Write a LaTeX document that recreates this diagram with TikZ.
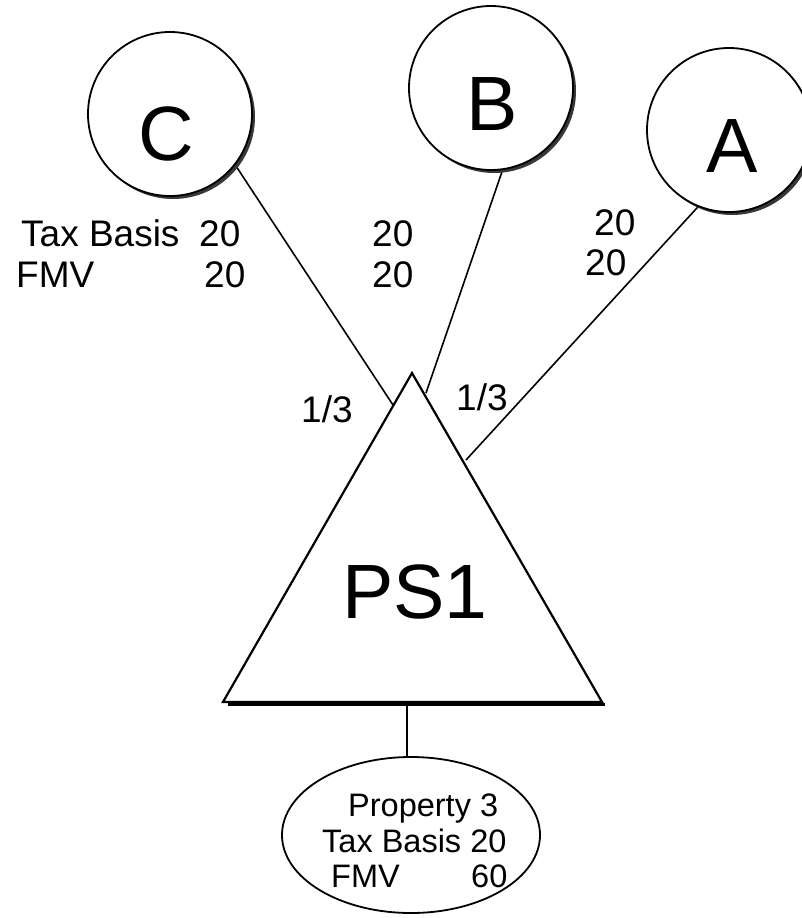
\documentclass[tikz,border=0pt]{standalone}
\usepackage{fontspec}
\setmainfont{Liberation Sans}
\usetikzlibrary{shapes.geometric,shadows,backgrounds}
\begin{document}
\begin{tikzpicture}[x=1pt,y=-1pt,
  partner/.style={circle,draw,line width=1.8pt,fill=white,minimum size=164pt,inner sep=0pt,
    drop shadow={shadow xshift=3pt,shadow yshift=-3pt,opacity=1,fill=black!78}},
  bigtext/.style={anchor=base,inner sep=0pt,font=\fontsize{77}{92}\selectfont},
  lbl/.style={anchor=base west,inner sep=0pt,font=\fontsize{37}{44}\selectfont},
  plbl/.style={anchor=base west,inner sep=0pt,font=\fontsize{32.5}{39}\selectfont},
  link/.style={line width=1.6pt},
  edge/.style={line width=2.2pt,line join=miter},
]
\useasboundingbox (0,0) rectangle (801,918);

% partnership triangle corners
\coordinate (apex) at (412,373);
\coordinate (bl) at (223,702);
\coordinate (br) at (602,702);
\coordinate (base) at (407,702);

% where the partner lines meet the triangle
\coordinate (tC) at (393,405);
\coordinate (tB) at (426,393);
\coordinate (tA) at (466,460);

% partners
\node[partner] (C) at (170,114) {};
\node[partner] (B) at (491,88) {};
\node[partner] (A) at (729,130) {};
\node[bigtext] (Ct) at (166,160) {C};
\node[bigtext] (Bt) at (492,130) {B};
\node[bigtext] (At) at (732,172) {A};

% ownership lines, kept behind the circles
\begin{pgfonlayer}{background}
\draw[link] (C.-38) -- (tC);
\draw[link] (B.-82) -- (tB);
\draw[link] (A.-112) -- (tA);
\end{pgfonlayer}

% triangle with its base shadow
\draw[line width=2.4pt] (228,704.5) -- (605,704.5);
\draw[edge,fill=white] (apex) -- (bl) -- (br) -- cycle;
\node[bigtext] (PS) at (415,618) {PS1};

% property held by the partnership
\node[ellipse,draw,line width=1.8pt,minimum width=258pt,minimum height=156pt,inner sep=0pt] (P) at (411,835) {};
\draw[link] (base) -- (base |- P.north);
\node[plbl] (p1) at (348,816) {Property 3};
\node[plbl] (p2) at (322,852) {Tax Basis 20};
\node[plbl] (p3) at (331,887) {FMV};
\node[plbl] (p4) at (471,887) {60};

% capital accounts of the partners
\node[lbl] (c1) at (21,246) {Tax Basis};
\node[lbl] (c2) at (199,246) {20};
\node[lbl] (c3) at (16,287) {FMV};
\node[lbl] (c4) at (204,287) {20};
\node[lbl] (b1) at (372,246) {20};
\node[lbl] (b2) at (372,287) {20};
\node[lbl] (a1) at (594,235) {20};
\node[lbl] (a2) at (585,275) {20};

% ownership fractions
\node[lbl] (f1) at (301,422) {1/3};
\node[lbl] (f2) at (456,410) {1/3};
\end{tikzpicture}
\end{document}
